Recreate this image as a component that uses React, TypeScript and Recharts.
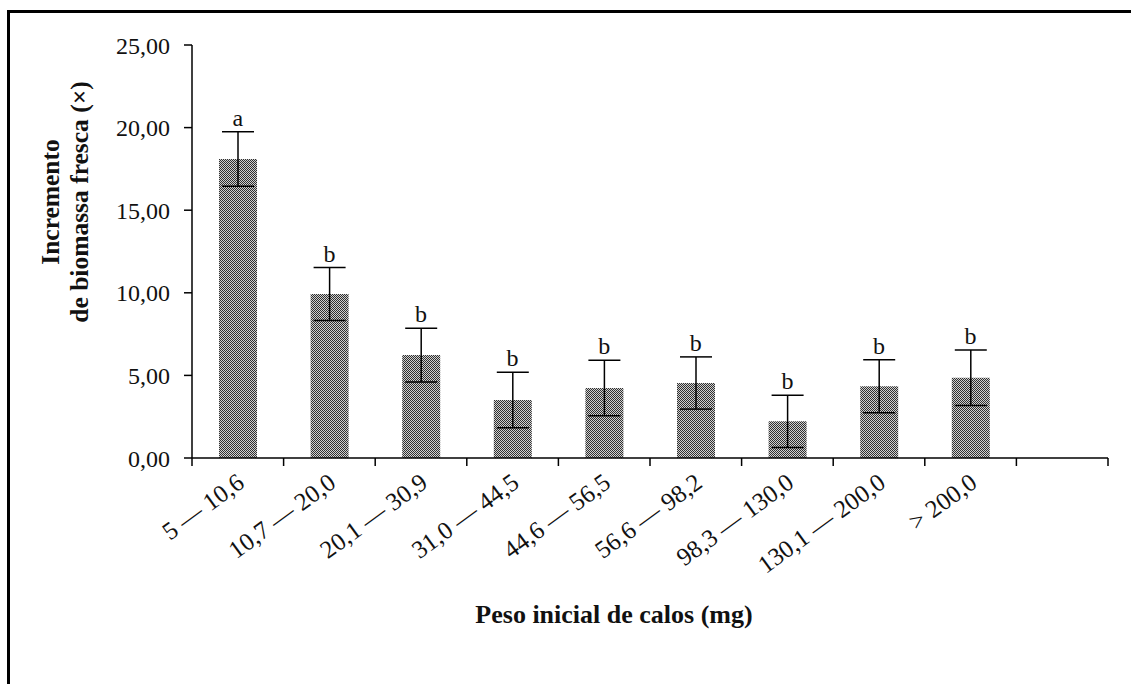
import {
  Bar,
  ComposedChart,
  ErrorBar,
  LabelList,
  Line,
  XAxis,
  YAxis,
} from 'recharts';

const categories = [
  '5 — 10,6',
  '10,7 — 20,0',
  '20,1 — 30,9',
  '31,0 — 44,5',
  '44,6 — 56,5',
  '56,6 — 98,2',
  '98,3 — 130,0',
  '130,1 — 200,0',
  '> 200,0',
  '',
];
const means = [18.1, 9.93, 6.23, 3.51, 4.24, 4.54, 2.22, 4.34, 4.86, null];
const errors = [1.65, 1.6, 1.63, 1.68, 1.68, 1.58, 1.58, 1.6, 1.68, null];
const letters = ['a', 'b', 'b', 'b', 'b', 'b', 'b', 'b', 'b', ''];
const yTicks = [0, 5, 10, 15, 20, 25];

const FONT = '"Liberation Serif", "Times New Roman", serif';

// bars sit at the middle of each slot, tick marks fall on the slot edges
const data = categories.map((name, i) => ({
  pos: i + 0.5,
  name,
  mean: means[i],
  err: errors[i],
  top: means[i] == null ? null : (means[i] as number) + (errors[i] as number),
  letter: letters[i],
}));
const xTicks = [
  ...categories.map((_, i) => i),
  categories.length,
  ...categories.map((_, i) => i + 0.5),
].sort((a, b) => a - b);

function SlotTick({ x, y, payload }: any) {
  const v = payload.value as number;
  if (Number.isInteger(v)) {
    return <line x1={x} y1={y} x2={x} y2={y + 8} stroke="#000" strokeWidth={1.5} />;
  }
  const ax = x + 8;
  const ay = y + 28;
  return (
    <text
      x={ax}
      y={ay}
      textAnchor="end"
      fontFamily={FONT}
      fontSize={25}
      fill="#111"
      transform={`rotate(-36, ${ax}, ${ay})`}
    >
      {categories[Math.floor(v)]}
    </text>
  );
}

export default function App() {
  return (
    <div
      style={{
        position: 'absolute',
        left: 0,
        top: 0,
        width: 1131,
        height: 684,
        background: '#fff',
        overflow: 'hidden',
      }}
    >
      <div
        style={{
          position: 'absolute',
          left: 7,
          top: 10,
          width: 1200,
          height: 800,
          borderTop: '3px solid #000',
          borderLeft: '3px solid #000',
        }}
      />
      <div style={{ position: 'absolute', left: 0, top: 0 }}>
        <ComposedChart
          width={1131}
          height={684}
          data={data}
          margin={{ top: 45, right: 23, left: 0, bottom: 0 }}
        >
          <defs>
            <pattern id="dots" width="2" height="2" patternUnits="userSpaceOnUse">
              <rect x="0" y="0" width="2" height="2" fill="#d0d0d0" />
              <rect x="0" y="0" width="1" height="1" fill="#303030" />
              <rect x="1" y="1" width="1" height="1" fill="#303030" />
            </pattern>
          </defs>
          <XAxis
            dataKey="pos"
            type="number"
            domain={[0, categories.length]}
            ticks={xTicks}
            interval={0}
            height={226}
            axisLine={{ stroke: '#000', strokeWidth: 1.5 }}
            tickLine={false}
            tickSize={0}
            tickMargin={0}
            tick={<SlotTick />}
          />
          <YAxis
            width={192}
            domain={[0, 25]}
            ticks={yTicks}
            axisLine={{ stroke: '#000', strokeWidth: 1.5 }}
            tickLine={{ stroke: '#000', strokeWidth: 1.5 }}
            tickSize={8}
            tickMargin={14}
            tick={{ fill: '#111', fontSize: 24, fontFamily: FONT }}
            tickFormatter={(v: number) => v.toFixed(2).replace('.', ',')}
            label={{
              content: () => (
                <g fontFamily={FONT} fontSize={25.5} fontWeight="bold" fill="#111">
                  <text x={59} y={202} textAnchor="middle" transform="rotate(-90, 59, 202)">
                    Incremento
                  </text>
                  <text x={88} y={202} textAnchor="middle" transform="rotate(-90, 88, 202)">
                    de biomassa fresca (×)
                  </text>
                </g>
              ),
            }}
          />
          <Bar dataKey="mean" barSize={38} fill="url(#dots)" isAnimationActive={false}>
            <ErrorBar dataKey="err" width={16} stroke="#000" strokeWidth={1.5} />
          </Bar>
          <Line
            dataKey="top"
            stroke="none"
            dot={false}
            activeDot={false}
            isAnimationActive={false}
          >
            <LabelList
              dataKey="letter"
              position="top"
              offset={6}
              fill="#111"
              fontSize={24}
              fontFamily={FONT}
            />
          </Line>
        </ComposedChart>
      </div>
      <div
        style={{
          position: 'absolute',
          left: 414,
          top: 600,
          width: 400,
          textAlign: 'center',
          fontFamily: FONT,
          fontSize: 26,
          fontWeight: 'bold',
          color: '#111',
        }}
      >
        Peso inicial de calos (mg)
      </div>
    </div>
  );
}
